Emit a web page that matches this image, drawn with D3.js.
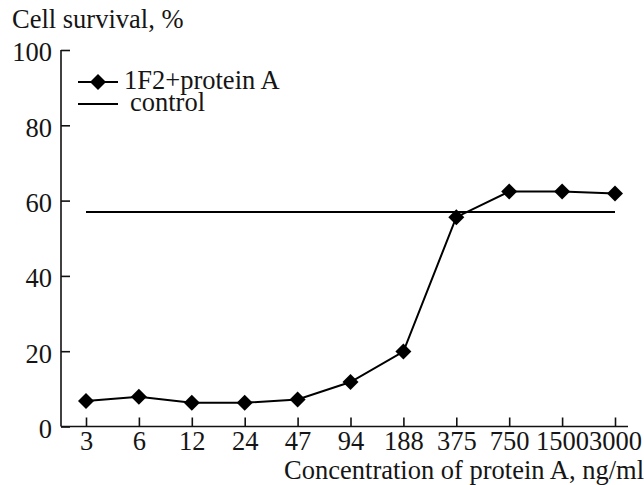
<!DOCTYPE html>
<html>
<head>
<meta charset="utf-8">
<script src="https://cdn.jsdelivr.net/npm/d3@7"></script>
<style>
  body { margin: 0; background: #fff; }
</style>
</head>
<body>
<svg id="chart"></svg>
<script>
// concentrations (category labels on x axis)
var concentrations = ["3", "6", "12", "24", "47", "94", "188", "375", "750", "1500", "3000"];
// survival values
var survival = [6.8, 7.9, 6.3, 6.3, 7.2, 11.8, 19.9, 55.6, 62.4, 62.4, 61.9];
var controlValue = 57.0;
var yTicks = [0, 20, 40, 60, 80, 100];

var width = 644, height = 485;
var fontSize = "26.5px";

var svg = d3.select("#chart")
    .attr("width", width)
    .attr("height", height);

// scales
var x = d3.scalePoint()
    .domain(concentrations)
    .range([86, 615]);

var y = d3.scaleLinear()
    .domain([0, 100])
    .range([426.5, 50]);

var axisLeft = 61, axisRight = 628;

function styleText(sel) {
  sel.style("font-family", "'Liberation Serif'")
     .style("font-size", fontSize)
     .attr("fill", "#151515");
}

// y axis, ticks point inward
var yAxis = d3.axisRight(y)
    .tickValues(yTicks)
    .tickSize(9)
    .tickFormat(d3.format("d"));

var gy = svg.append("g")
    .attr("transform", "translate(" + axisLeft + ",0)")
    .call(yAxis);
gy.select(".domain").remove();
gy.selectAll(".tick line").attr("stroke", "#111").attr("stroke-width", 1.6);
gy.selectAll(".tick text")
    .attr("x", -9)
    .attr("dy", "0.41em")
    .style("text-anchor", "end")
    .call(styleText);
svg.append("line")
    .attr("x1", axisLeft).attr("x2", axisLeft)
    .attr("y1", y(100)).attr("y2", y(0))
    .attr("stroke", "#111").attr("stroke-width", 1.6);

// x axis, ticks point up
var xAxis = d3.axisTop(x).tickSize(9);
var gx = svg.append("g")
    .attr("transform", "translate(0," + y(0) + ")")
    .call(xAxis);
gx.select(".domain").remove();
gx.selectAll(".tick line").attr("stroke", "#111").attr("stroke-width", 1.6);
gx.selectAll(".tick text")
    .attr("y", 23)
    .attr("dy", 0)
    .style("text-anchor", "middle")
    .call(styleText);
svg.append("line")
    .attr("x1", axisLeft).attr("x2", axisRight)
    .attr("y1", y(0)).attr("y2", y(0))
    .attr("stroke", "#111").attr("stroke-width", 1.6);

// axis titles
svg.append("text")
    .attr("x", 12).attr("y", 28)
    .call(styleText)
    .text("Cell survival, %");

svg.append("text")
    .attr("x", 644).attr("y", 479)
    .style("text-anchor", "end")
    .call(styleText)
    .text("Concentration of protein A, ng/ml");

// control line
svg.append("line")
    .attr("x1", x(concentrations[0]))
    .attr("x2", x(concentrations[concentrations.length - 1]))
    .attr("y1", y(controlValue)).attr("y2", y(controlValue))
    .attr("stroke", "#000").attr("stroke-width", 2);

// data line
var line = d3.line()
    .x(function(d, i) { return x(concentrations[i]); })
    .y(function(d) { return y(d); });

svg.append("path")
    .datum(survival)
    .attr("d", line)
    .attr("fill", "none")
    .attr("stroke", "#000")
    .attr("stroke-width", 2);

// diamond markers: squares turned 45 degrees
var diamond = d3.symbol().type(d3.symbolSquare).size(128);

svg.selectAll(".marker")
    .data(survival)
    .enter()
    .append("path")
    .attr("class", "marker")
    .attr("d", diamond)
    .attr("transform", function(d, i) {
      return "translate(" + x(concentrations[i]) + "," + y(d) + ") rotate(45)";
    })
    .attr("fill", "#000");

// legend
var legend = svg.append("g");
legend.append("line")
    .attr("x1", 78).attr("x2", 118).attr("y1", 82).attr("y2", 82)
    .attr("stroke", "#000").attr("stroke-width", 2);
legend.append("path")
    .attr("d", diamond)
    .attr("transform", "translate(98,82) rotate(45)")
    .attr("fill", "#000");
legend.append("text")
    .attr("x", 124).attr("y", 89)
    .call(styleText)
    .text("1F2+protein A");

legend.append("line")
    .attr("x1", 78).attr("x2", 118).attr("y1", 104).attr("y2", 104)
    .attr("stroke", "#000").attr("stroke-width", 2);
legend.append("text")
    .attr("x", 130).attr("y", 111)
    .call(styleText)
    .text("control");
</script>
</body>
</html>
